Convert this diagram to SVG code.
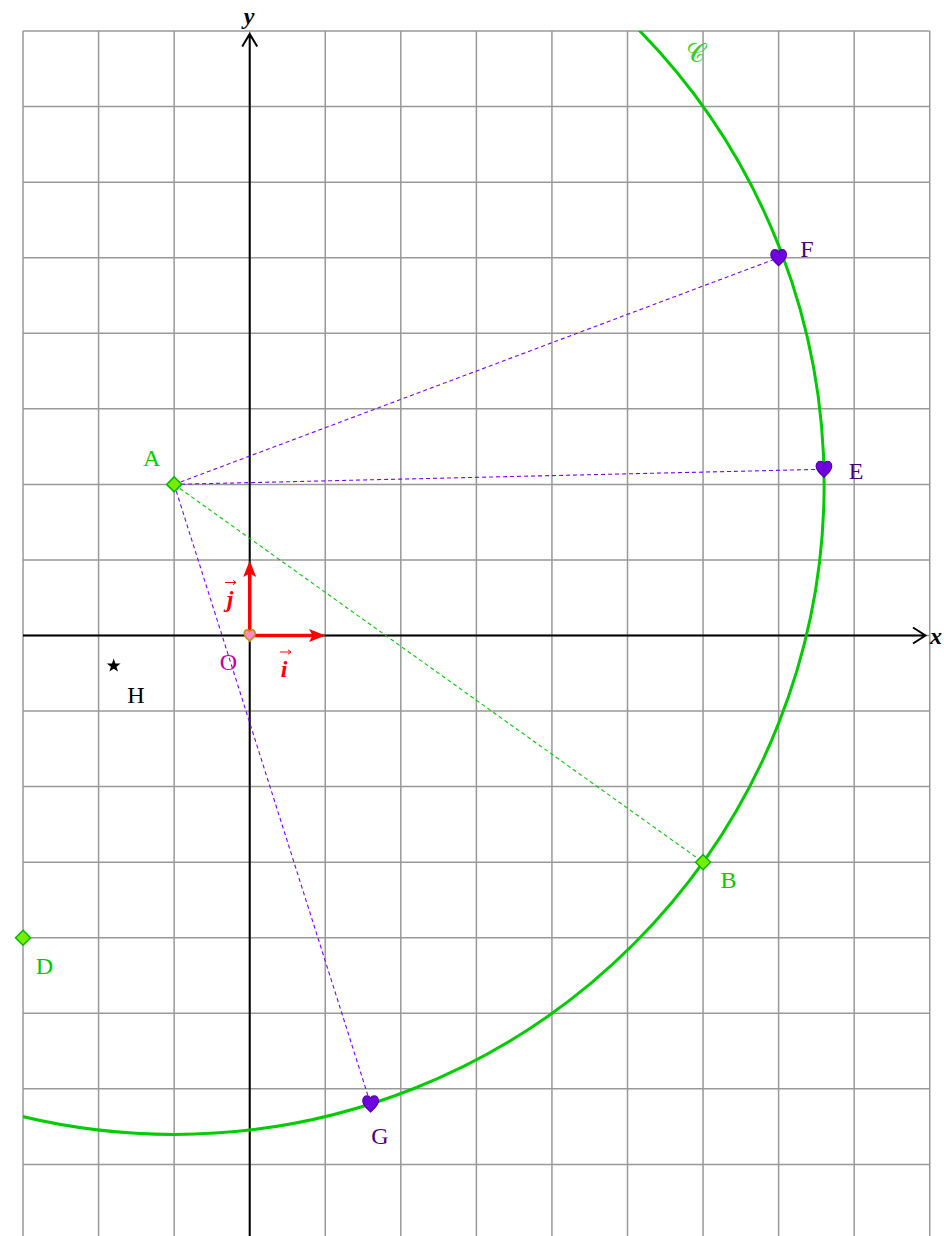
<svg xmlns="http://www.w3.org/2000/svg" width="944" height="1236" viewBox="0 0 944 1236">
<style>
.grid line{stroke:#999;stroke-width:1.5}
.axis{stroke:#000;stroke-width:2;fill:none}
.lbl{font-family:"Liberation Serif",serif;font-size:24px}
.vec{stroke:#ff0000;stroke-width:3.5;fill:none}
.dp{stroke:#7f00ff;stroke-width:1.1;stroke-dasharray:4,3;fill:none}
.dg{stroke:#00cc00;stroke-width:1.1;stroke-dasharray:4,3;fill:none}
.diamond{fill:#77ee00;stroke:#00bb00;stroke-width:1.5}
.heart{fill:#6f00e0;stroke:#5200a8;stroke-width:1.2}
</style>
<defs>
<clipPath id="gclip"><rect x="23" y="31" width="907" height="1209"/></clipPath>
<path id="dia" d="M0,-7.5 L7.5,0 L0,7.5 L-7.5,0 Z"/>
<path id="hrt" d="M0,8 C-3,5 -7.8,1.5 -7.8,-3 C-7.8,-6.2 -5.7,-8 -3.7,-8 C-1.8,-8 -0.5,-7 0,-5 C0.5,-7 1.8,-8 3.7,-8 C5.7,-8 7.8,-6.2 7.8,-3 C7.8,1.5 3,5 0,8 Z"/>
</defs>
<rect width="944" height="1236" fill="#fff"/>
<g id="grid" class="grid">
<line x1="23.02" y1="31" x2="23.02" y2="1236"/>
<line x1="98.58" y1="31" x2="98.58" y2="1236"/>
<line x1="174.14" y1="31" x2="174.14" y2="1236"/>
<line x1="249.7" y1="31" x2="249.7" y2="1236"/>
<line x1="325.26" y1="31" x2="325.26" y2="1236"/>
<line x1="400.82" y1="31" x2="400.82" y2="1236"/>
<line x1="476.38" y1="31" x2="476.38" y2="1236"/>
<line x1="551.94" y1="31" x2="551.94" y2="1236"/>
<line x1="627.5" y1="31" x2="627.5" y2="1236"/>
<line x1="703.06" y1="31" x2="703.06" y2="1236"/>
<line x1="778.62" y1="31" x2="778.62" y2="1236"/>
<line x1="854.18" y1="31" x2="854.18" y2="1236"/>
<line x1="929.74" y1="31" x2="929.74" y2="1236"/>
<line x1="23" y1="31.02" x2="929.74" y2="31.02"/>
<line x1="23" y1="106.58" x2="929.74" y2="106.58"/>
<line x1="23" y1="182.14" x2="929.74" y2="182.14"/>
<line x1="23" y1="257.7" x2="929.74" y2="257.7"/>
<line x1="23" y1="333.26" x2="929.74" y2="333.26"/>
<line x1="23" y1="408.82" x2="929.74" y2="408.82"/>
<line x1="23" y1="484.38" x2="929.74" y2="484.38"/>
<line x1="23" y1="559.94" x2="929.74" y2="559.94"/>
<line x1="23" y1="635.5" x2="929.74" y2="635.5"/>
<line x1="23" y1="711.06" x2="929.74" y2="711.06"/>
<line x1="23" y1="786.62" x2="929.74" y2="786.62"/>
<line x1="23" y1="862.18" x2="929.74" y2="862.18"/>
<line x1="23" y1="937.74" x2="929.74" y2="937.74"/>
<line x1="23" y1="1013.3" x2="929.74" y2="1013.3"/>
<line x1="23" y1="1088.86" x2="929.74" y2="1088.86"/>
<line x1="23" y1="1164.42" x2="929.74" y2="1164.42"/>
</g>
<g id="axes">
<path class="axis" d="M23,635.5 H925 M913,627.5 L925.5,635.5 L913,643.5"/>
<path class="axis" d="M249.7,1236 V34 M242.2,46.5 L249.7,34 L257.2,46.5"/>
<text class="lbl" x="249" y="24" text-anchor="middle" font-weight="bold" font-style="italic">y</text>
<text class="lbl" x="930" y="644" font-weight="bold" font-style="italic">x</text>
</g>
<g id="circle">
<circle cx="174.14" cy="484.38" r="650" fill="none" stroke="#00cc00" stroke-width="3" clip-path="url(#gclip)"/>
<text x="695" y="62" text-anchor="middle" fill="#33cc33" font-family="'DejaVu Serif','Noto Sans',serif" font-size="26">𝒞</text>
</g>
<g id="connectors">
<line class="dp" x1="174.14" y1="484.38" x2="778.62" y2="257.7"/>
<line class="dp" x1="174.14" y1="484.38" x2="823.96" y2="469.27"/>
<line class="dp" x1="174.14" y1="484.38" x2="370.6" y2="1103.97"/>
<line class="dg" x1="174.14" y1="484.38" x2="703.06" y2="862.18"/>
</g>
<g id="vectors">
<path class="vec" d="M249.7,635.5 H312"/>
<path fill="#ff0000" d="M325.5,635.5 L309,629 L312.5,635.5 L309,642 Z"/>
<path class="vec" d="M249.7,635.5 V574"/>
<path fill="#ff0000" d="M249.7,560.5 L243.2,577 L249.7,573.5 L256.2,577 Z"/>
<text class="lbl" x="284" y="677" text-anchor="middle" fill="#ff0000" font-weight="bold" font-style="italic">i</text>
<path d="M280,652 H290.5 M288,649.8 L291,652 L288,654.2" stroke="#ff0000" stroke-width="1" fill="none"/>
<text class="lbl" x="230" y="607" text-anchor="middle" fill="#ff0000" font-weight="bold" font-style="italic">j</text>
<path d="M225,582.5 H235.5 M233,580.3 L236,582.5 L233,584.7" stroke="#ff0000" stroke-width="1" fill="none"/>
</g>
<g id="node-O">
<use href="#hrt" transform="translate(249.7,635.5) scale(0.7)" fill="#ff88cc" stroke="#c89018" stroke-width="2.4"/>
<text class="lbl" x="228.5" y="670" text-anchor="middle" fill="#c800a0">O</text>
</g>
<g id="node-A">
<use href="#dia" class="diamond" x="174.14" y="484.38"/>
<text class="lbl" x="151.7" y="466" text-anchor="middle" fill="#00cc00">A</text>
</g>
<g id="node-B">
<use href="#dia" class="diamond" x="703.06" y="862.18"/>
<text class="lbl" x="728.5" y="888" text-anchor="middle" fill="#00cc00">B</text>
</g>
<g id="node-D">
<use href="#dia" class="diamond" x="23.02" y="937.74"/>
<text class="lbl" x="44.5" y="974" text-anchor="middle" fill="#00cc00">D</text>
</g>
<g id="node-E">
<use href="#hrt" class="heart" x="823.96" y="469.27"/>
<text class="lbl" x="856" y="479" text-anchor="middle" fill="#4b0082">E</text>
</g>
<g id="node-F">
<use href="#hrt" class="heart" x="778.62" y="257.7"/>
<text class="lbl" x="807" y="257" text-anchor="middle" fill="#4b0082">F</text>
</g>
<g id="node-G">
<use href="#hrt" class="heart" x="370.6" y="1103.97"/>
<text class="lbl" x="380" y="1144" text-anchor="middle" fill="#4b0082">G</text>
</g>
<g id="node-H">
<path fill="#000" d="M113.7,658.5 L115.4,663.4 L120.6,663.5 L116.5,666.7 L118,671.6 L113.7,668.7 L109.4,671.6 L110.9,666.7 L106.8,663.5 L112,663.4 Z"/>
<text class="lbl" x="136" y="703" text-anchor="middle" fill="#000">H</text>
</g>
</svg>
